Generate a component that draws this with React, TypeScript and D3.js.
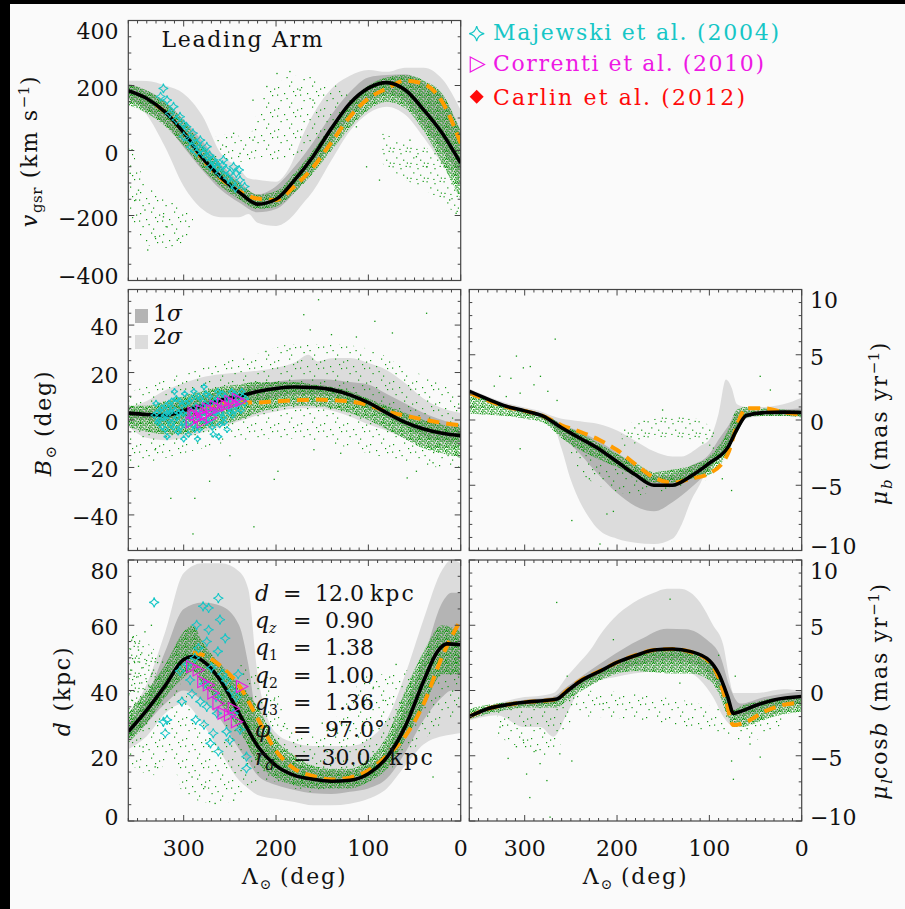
import React from 'react';
import * as d3 from 'd3';

type P = [number, number];
type B = [number, number, number];

// ================= DATA =================
// ---- v_gsr panel ----
const vMean: P[] = [[360,184],[340,160],[320,118],[300,55],[280,-22],[260,-82],[240,-128],[220,-165],[200,-150],[180,-91],[160,-19],[140,68],[120,145],[100,192],[80,209],[60,186],[40,125],[20,53],[0,-39]];
const vOrange: P[] = [[330,140],[320,118],[300,55],[280,-25],[260,-85],[240,-125],[220,-148],[200,-152],[180,-110],[160,-52],[140,25],[120,104],[100,160],[80,191],[60,215],[40,205],[20,150],[0,22]];
const v2s: B[] = [[360,165,215],[340,110,214],[320,10,200],[300,-110,175],[280,-180,108],[260,-205,-8],[240,-205,-55],[230,-195,-85],[220,-222,-90],[200,-232,-96],[185,-210,-50],[170,-160,53],[160,-125,110],[140,-30,190],[120,60,230],[100,115,248],[80,135,242],[60,110,255],[40,40,255],[20,-40,220],[0,-101,125]];
const v1s: B[] = [[360,160,205],[340,125,185],[320,80,150],[300,10,95],[280,-60,30],[260,-120,-40],[240,-160,-95],[220,-190,-135],[200,-180,-110],[180,-130,-50],[160,-60,25],[140,25,110],[120,100,180],[100,150,225],[80,175,232],[60,150,235],[40,75,210],[20,0,170],[0,-80,60]];
const vCore: B[] = [[360,140,205],[340,115,185],[320,75,150],[300,15,90],[280,-55,15],[260,-110,-50],[240,-150,-100],[220,-180,-135],[200,-172,-125],[180,-130,-70],[160,-70,0],[140,0,75],[120,70,150],[100,125,200],[80,150,225],[60,130,232],[40,60,215],[20,-40,175],[0,-150,60]];
const vSparse: B[] = [[360,-180,30],[340,-290,-100],[320,-300,-150],[300,-280,-180],[290,-250,-210]];
const vSparse2: B[] = [[268,-30,40],[250,-40,50],[230,-30,40],[215,-20,170],[200,-40,200],[185,-20,230],[170,0,230],[150,40,220],[130,60,190],[115,80,150]];
const vLow: B[] = [[85,-40,60],[75,-60,40],[60,-90,20],[40,-120,10],[20,-160,-20],[0,-210,-90]];
const vDots: P[] = [[199,237],[185,243],[210,197],[174,186],[225,155],[160,155],[246,53],[254,12],[239,-9],[225,32],[113,73],[102,-50],[88,-91],[48,-19],[37,-50],[55,32],[12,-152],[5,-193],[349,-122],[342,-183],[331,-265],[339,-306],[318,-235],[307,-276],[322,-204],[356,2],[358,-70],[352,-152]];
const vStars: P[] = [[322,191],[325,166],[318,155],[311,135],[315,114],[308,94],[304,104],[300,43],[297,73],[293,32],[290,53],[286,22],[282,32],[282,2],[279,-9],[275,12],[275,-19],[271,-50],[268,-29],[264,-50],[261,-70],[257,-29],[254,-60],[250,-70],[246,-50],[243,-70],[239,-91],[234,-111],[300,80],[292,10],[286,-5],[272,-15],[266,-40],[258,-45],[252,-85],[248,-100],[240,-60],[244,-115]];

// ---- B panel ----
const bMean: P[] = [[360,2.9],[340,2.3],[320,1.9],[300,4],[280,6],[260,8.3],[240,10],[220,12],[200,13.3],[180,13.9],[160,13.7],[140,12.8],[120,10.6],[100,7.3],[80,3],[60,-1],[40,-3.8],[20,-5.6],[0,-6.6]];
const bOrange: P[] = [[300,3.8],[280,5.5],[260,6.8],[240,7.3],[220,7.4],[200,7.9],[180,8.3],[160,8.6],[140,8.4],[120,7.8],[100,6.3],[80,3.6],[60,1.8],[40,0.2],[20,-1.2],[0,-2.2]];
const b2s: B[] = [[360,-2.7,5],[340,-7.5,8],[320,-8.5,12.5],[300,-7.5,15.5],[280,-5.3,18],[260,-3,19.3],[240,-0.5,20],[220,2,20.8],[200,3.6,22],[180,4.8,24.2],[165,5,27.5],[155,5,24.7],[140,4,26],[120,1.5,26.1],[100,-1.8,24],[80,-4.5,21],[60,-7.8,15.5],[40,-11,9],[20,-11.8,5],[0,-11,3]];
const b1s: B[] = [[360,1,4],[340,0,4],[320,-1,6],[300,0.5,8],[280,2,10],[260,4,12],[240,6,13.5],[220,8,15],[200,9.5,16.2],[180,10.5,17],[160,10.5,17.2],[140,10,17],[120,7,16],[100,5,15],[80,1,11],[60,-3,7],[40,-7,3],[20,-9,0],[0,-9.7,-2.7]];
const bCore: B[] = [[360,-3,6],[340,-5,6],[320,-6,8],[300,-6,10],[280,-4,12],[260,-2,14],[240,0,15],[220,3,16],[200,5,16],[180,6,16],[160,6,15],[140,5,14],[120,3,12],[100,0,9],[80,-4,6],[60,-8,3],[40,-12,0],[20,-14,-2],[0,-16,-3]];
const bSparse: B[] = [[360,-20,12],[340,-18,14],[300,-14,20],[260,-10,25],[220,-8,28],[180,-8,32],[140,-10,32],[100,-14,30],[60,-18,22],[20,-20,15],[0,-20,10]];
const bDots: P[] = [[154,50.7],[170,44.4],[93,41.6],[163,38],[211,28.9],[74,36.7],[37,45],[113,35],[198,-21.6],[202,-25],[272,-25.8],[288,-33],[314,-33],[224,-45],[290,-48],[48,-21.6],[58,-24.4],[30,-18],[159,-12.5],[331,-12.5],[349,-19.5],[250,-15],[130,-14],[185,30],[140,36]];
const bStars: P[] = [[332,2],[328,-1],[326,4],[322,1],[320,-4],[318,3],[316,7],[314,-2],[312,5],[310,0],[308,9],[306,-5],[305,3],[302,6],[300,-1],[299,11],[297,2],[295,-6],[294,8],[292,4],[290,-2],[289,12],[287,6],[285,1],[283,-4],[282,9],[280,3],[278,14],[277,7],[275,-1],[273,5],[272,10],[270,0],[268,-6],[266,8],[265,3],[263,12],[261,-2],[259,6],[257,1],[255,10],[253,-4],[251,5],[249,8],[247,2],[245,11],[243,6],[241,9],[238,4],[236,10],[234,7],[318,-7],[300,-8],[285,-8],[262,-7],[330,7],[310,12],
  [329,3],[327,0],[324,5],[323,-3],[321,2],[319,6],[317,0],[315,3],[313,8],[311,-3],[309,4],[307,1],[304,8],[303,-3],[301,3],[298,7],[296,-2],[293,1],[291,9],[288,-4],[286,4],[284,10],[281,0],[279,6],[276,11],[274,2],[271,7],[269,-3],[267,3],[264,9],[260,3],[258,11],[256,-1],[252,8],[250,3],[248,12],[244,4],[240,7],[237,12],[233,9]];
const bTris: P[] = [[292,-1],[288,2],[284,1],[281,4],[277,2],[274,5],[270,4],[266,6],[262,5],[258,7],[254,6],[250,8],[246,7],[242,9],[238,8],[290,3],[280,-1],[270,1]];

// ---- d panel ----
const dMean: P[] = [[360,27.4],[340,34],[320,41.5],[300,49.5],[290,50.4],[280,49.2],[260,43],[240,33],[220,23],[200,17],[180,14],[160,12.8],[140,12.2],[120,12.5],[100,14.5],[80,19.5],[60,29],[40,43],[25,52],[15,54.3],[0,54]];
const dOrange: P[] = [[290,51.5],[280,51],[260,47.5],[240,41.5],[220,31.5],[200,21.5],[180,16],[160,13.8],[140,12.7],[120,13.3],[100,15.5],[80,20],[60,26],[40,36],[20,50.5],[0,61.7]];
const d2s: B[] = [[360,22,33],[340,26,42],[320,33,58],[300,36,76],[280,30,79],[260,21,79],[240,12.5,76.5],[230,10,71],[220,8,45],[200,6.8,27],[180,5.8,24],[160,4.8,23],[140,4.8,23],[120,5.3,23],[100,6.8,25],[80,10,31],[60,17,45],[40,23.5,62],[20,26,77],[10,26.5,80],[0,27,79]];
const d1s: B[] = [[360,25,30],[340,30,38],[320,36,52],[300,40,65],[280,37,67],[260,31,66],[240,22,60],[230,18,48],[220,14,30],[200,11,22],[180,9.5,18],[160,8.5,16],[140,8.3,15.5],[120,9,15.5],[100,10,17],[80,13,22],[60,21,35],[40,31,50],[20,38,67],[10,40,70],[0,40,70]];
const dCore: B[] = [[360,24,33],[340,30,40],[320,38,48],[300,44,58],[290,46,60],[280,42,55],[260,36,48],[240,28,42],[220,18,35],[200,13,25],[180,11,20],[160,10,17],[140,10,16],[120,10,16],[100,12,19],[80,16,26],[60,25,40],[40,35,52],[20,45,60],[0,45,58]];
const dSparse: B[] = [[360,18,58],[345,15,56],[330,14,52],[315,20,48],[300,8,40],[280,6,30],[260,5,25],[240,8,48],[220,12,48],[200,12,40],[180,10,28],[160,9,26],[140,10,30],[120,11,38],[100,12,45],[80,15,45],[60,20,46],[40,25,50],[20,30,55],[0,32,56]];
const dLow: B[] = [[360,30,57],[350,32,56],[340,36,52],[330,38,50]];
const dDots: P[] = [[354.6,56.5],[349,52.4],[342,58],[326,37],[344,22.7],[331,16.6],[291,13.5],[277,10.5],[266,5.4],[246,6.4],[202,37.1],[192,29],[138,28],[120,34],[94.6,41],[84,37],[30,13.5],[48,20],[210,44],[150,30],[70,48],[335,60]];
const dStars: P[] = [[332,67],[322,30.4],[320,26.9],[318,31],[302,36.6],[293,43.2],[291,39],[288,50],[286,60.1],[282,36.6],[279,65.8],[278,42],[278,29.5],[275,35],[275,55],[273,65.3],[273,58.6],[271,23.8],[268,26.9],[264,33],[263,52],[262.5,68.3],[262.5,21.3],[260.7,61.7],[255,56],[254,43],[253.6,27.4],[250,24.8],[246,33],[243,38],[239,28],[232,19.7],[232,16.1],[304,46],[296,48],[284,53],[270,47],[258,45],[248,40],[265,38],[287,31],[241,45]];
const dTris: P[] = [[291,47.3],[284,46.3],[279,42.7],[273,41.7],[268,39.2],[262.5,36],[257,33],[250,32.5],[246,34.5],[242.6,30.4],[237,41.2]];

// ---- mu_b panel ----
const mbMean: P[] = [[360,2.2],[340,1.6],[320,1.05],[300,0.7],[280,0.3],[260,-0.6],[240,-1.4],[220,-2.2],[200,-3.2],[180,-4.2],[160,-5.0],[140,-5.0],[120,-4.3],[100,-3.3],[80,-2.1],[70,-0.7],[60,0.35],[40,0.57],[20,0.6],[0,0.57]];
const mbOrange: P[] = [[360,2.1],[340,1.5],[320,1.0],[300,0.7],[280,0.3],[260,-0.4],[240,-0.9],[220,-1.5],[200,-2.3],[180,-3.4],[160,-4.4],[140,-4.8],[120,-4.5],[100,-4.1],[80,-2.6],[70,-0.4],[60,0.9],[40,0.9],[20,0.6],[0,0.4]];
const mb2s: B[] = [[360,1.9,2.4],[340,1.3,1.8],[320,0.8,1.3],[300,0.4,0.95],[280,0,0.6],[270,-0.3,0.3],[260,-2.2,0.1],[250,-4.6,0],[240,-6.3,-0.1],[230,-7.5,-0.2],[220,-8.4,-0.3],[200,-9.1,-0.8],[180,-9.4,-1.6],[160,-9.5,-2.4],[140,-9.1,-2.8],[130,-8.0,-2.8],[120,-6.2,-2.5],[110,-4.9,-2.0],[100,-3.4,-1.5],[90,-2.6,0.5],[82,-2.2,3.1],[76,-1.6,2.5],[70,-0.8,1.2],[60,0.1,1.0],[40,0.3,1.0],[20,0.3,1.2],[0,0.2,1.7]];
const mb1s: B[] = [[360,2.0,2.3],[340,1.4,1.7],[320,0.9,1.15],[300,0.55,0.8],[280,0.1,0.45],[260,-1.2,-0.3],[240,-2.6,-0.9],[220,-4.2,-1.6],[200,-5.6,-2.5],[180,-6.6,-3.5],[160,-7.0,-4.3],[140,-6.3,-4.2],[120,-5.2,-3.5],[100,-3.8,-2.6],[90,-2.8,-1.5],[80,-2.2,-0.5],[70,-1.0,0.6],[60,0.2,0.7],[40,0.4,0.7],[20,0.4,0.8],[0,0.3,0.9]];
const mbCore: B[] = [[360,0.5,2.2],[340,0.4,1.6],[320,0.3,1.1],[300,0.1,0.8],[280,-0.2,0.4],[260,-1.4,-0.3],[240,-2.3,-1],[220,-3.0,-1.8],[200,-3.6,-2.6],[180,-4.3,-3.3],[160,-4.8,-4.0],[140,-4.8,-3.8],[120,-4.5,-3.5],[100,-4.2,-2.8],[90,-3.6,-2.0],[80,-2.5,-0.8],[70,-1.0,0.8],[60,0.2,1.0],[40,0.3,0.9],[20,0.3,0.8],[0,0.2,0.7]];
const mbLow: B[] = [[195,-2.2,-0.6],[180,-1.8,-0.1],[160,-1.4,0.1],[140,-1.3,0.3],[120,-1.5,0.2],[105,-2,-0.2],[95,-2.4,-0.8]];
const mbSparseB: B[] = [[250,-3,-1],[240,-4,-2],[220,-5,-3],[200,-5.5,-3.5],[180,-5.8,-4.5],[160,-5.5,-4.8],[140,-5.5,-4.5],[120,-5,-4],[100,-4.5,-3]];
const mbDots: P[] = [[267,6.2],[309,4.9],[301.5,4.0],[294,4.1],[327,3.35],[305,2.06],[333,2.6],[283,3.35],[305,-2.2],[249,-7.7],[218.5,-9.5],[211,-7.2],[204,-7.0],[76,-5.4],[45,3.35],[34,2.3],[150.7,0.77],[315,3.2],[290,2.7],[275,2.2],[320,1.8],[265,1.5],[230,-4.5],[86,-4.5]];

// ---- mu_l cos b panel ----
const mlMean: P[] = [[360,-2.0],[340,-1.4],[320,-1.1],[300,-0.9],[280,-0.78],[265,-0.65],[255,-0.1],[240,0.7],[220,1.42],[200,2.15],[180,2.68],[160,3.1],[140,3.18],[120,2.98],[100,2.3],[90,1.3],[80,-0.5],[74,-1.75],[66,-1.6],[50,-1.15],[30,-0.72],[0,-0.46]];
const mlOrange: P[] = [[360,-2.0],[340,-1.4],[320,-1.1],[300,-0.9],[280,-0.8],[265,-0.65],[255,-0.05],[240,0.75],[220,1.45],[200,2.15],[180,2.7],[160,3.1],[140,3.18],[120,2.95],[100,2.2],[90,1.0],[82,-0.8],[74,-2.65],[60,-2.4],[40,-1.6],[20,-1.1],[0,-0.93]];
const ml2s: B[] = [[360,-2.3,-1.75],[330,-1.9,-1.0],[300,-2.8,-0.5],[283,-2.8,-0.4],[269,-3.55,-0.2],[254,-1.75,1.1],[240,0.05,2.2],[229,0.4,3.1],[218,0.8,4.3],[204,1.0,5.5],[182,1.3,6.75],[160,1.5,7.5],[146,1.6,7.8],[132,1.6,7.8],[110,0.8,6.75],[96,-0.5,5.0],[85,-2.0,3.5],[78,-2.6,0.8],[74,-2.8,-0.2],[49,-2.3,-0.2],[20,-1.6,0.1],[0,-1.24,0]];
const ml1s: B[] = [[360,-2.1,-1.9],[330,-1.4,-1.1],[300,-1.2,-0.7],[270,-1.0,-0.5],[254,-0.3,0.3],[230,0.7,1.5],[211,1.2,2.4],[175,2.0,3.9],[146,2.3,4.74],[125,2.2,4.7],[103,1.4,3.9],[88,0.05,2.6],[78,-1.75,0.3],[67,-2.0,-1.0],[40,-1.4,-0.5],[0,-1.0,-0.08]];
const mlCore: B[] = [[360,-2.2,-1.4],[340,-1.8,-1.1],[320,-1.5,-0.9],[300,-1.3,-0.8],[280,-1.3,-0.7],[265,-1.3,-0.7],[255,-0.8,0],[240,-0.1,0.7],[220,0.7,1.5],[200,1.3,2.2],[180,1.5,2.7],[160,1.4,3.1],[140,1.3,3.1],[120,1.3,2.9],[100,0.8,2.3],[90,-0.2,1.5],[80,-2.0,-0.2],[74,-2.8,-1.5],[66,-2.8,-1.2],[50,-2.5,-0.9],[30,-2.0,-0.6],[0,-1.6,-0.6]];
const mlSparse: B[] = [[330,-3.5,-1.5],[300,-4.5,-1.2],[280,-5,-1.2],[260,-4,-1],[245,-2,0],[80,-3.5,-1.5],[60,-4,-2],[40,-3.5,-1.8],[20,-2.5,-1.4]];
const mlDots: P[] = [[265.4,6.75],[142.6,7.0],[326.8,-2.8],[309,-4.3],[298,-6.4],[283.4,-5.6],[294.5,-8.2],[272.6,-9.7],[276,-6.9],[249,-5.4],[262,-4.85],[301.5,-3.8],[74,-6.8],[76,-5.4],[45,-5.1],[56,-4.1],[132,0.57],[215,-1.0],[254,1.1],[72,1.1],[204,3.9],[318,-5.2],[288,-4.6],[90,2.7]];

// ---- texts ----
const xTickVals = [300, 200, 100, 0];
const legendLabels = ['Majewski et al. (2004)', 'Correnti et al. (2010)', 'Carlin et al. (2012)'];
const legendWidths = [286, 271, 252];
const paramNames = ['d', 'q', 'q', 'q', 'q', 'φ', 'r'];
const paramSubs = ['', 'z', '1', '2', '3', '', 'd'];
const paramValues = ['12.0', '0.90', '1.38', '1.00', '1.36', '97.0°', '30.0'];
const paramUnits = ['kpc', '', '', '', '', '', 'kpc'];

// ================= STYLE =================
const FONT = '"DejaVu Serif", "Liberation Serif", serif';
const FS = 22;
const BG = '#fafafa';
const C_LIGHT = '#dcdcdc';
const C_DARK = '#b4b4b4';
const GREEN = '#129812';
const CYAN = '#16c6c6';
const MAGENTA = '#ee18e4';
const RED = '#ff0a0a';
const ORANGE = '#ff9c00';
const FRAME = '#444';
const LS = 1.8;

const coreDots: [number, number][] = [[0.3,0.5],[2.6,0.2],[5.1,1.0],[7.4,0.4],[1.4,2.3],[3.9,2.8],[6.3,2.5],[8.2,3.3],[0.2,4.4],[2.7,4.9],[5.0,4.2],[7.1,5.3],[1.3,6.5],[3.8,6.9],[6.0,6.6],[8.3,7.0],[4.6,5.9],[0.8,7.5]];
const lowDots: [number, number][] = [[1.5,1.2],[9.4,3.1],[14.6,0.8],[5.2,7.3],[12.1,9.6],[2.4,12.8],[8.3,13.9],[15.8,12.5]];
const sparseDots: [number, number][] = [[2,3],[13,1.5],[8,9],[19,11],[4.5,16],[15,18.5],[21,4.5],[10.5,14],[1,10.5],[17,7]];

type Cfg = {
  id: string; x: [number, number]; y: [number, number]; dom: [number, number];
  major: number[]; minor: number; side: 'left' | 'right'; xlab: boolean;
};

const cfgV: Cfg = { id: 'v', x: [128.3, 460.7], y: [20.5, 280.5], dom: [-400, 400], major: [-400, -200, 0, 200, 400], minor: 50, side: 'left', xlab: false };
const cfgB: Cfg = { id: 'b', x: [128.3, 460.7], y: [289.5, 550.5], dom: [-55, 55], major: [-40, -20, 0, 20, 40], minor: 5, side: 'left', xlab: false };
const cfgD: Cfg = { id: 'd', x: [128.3, 460.7], y: [560, 821], dom: [0, 80], major: [0, 20, 40, 60, 80], minor: 5, side: 'left', xlab: true };
const cfgMB: Cfg = { id: 'mb', x: [469.3, 801.7], y: [289.5, 550.5], dom: [-10, 10], major: [-10, -5, 0, 5, 10], minor: 1, side: 'right', xlab: false };
const cfgML: Cfg = { id: 'ml', x: [469.3, 801.7], y: [560, 821], dom: [-10, 10], major: [-10, -5, 0, 5, 10], minor: 1, side: 'right', xlab: true };

const fmt = (v: number) => (v < 0 ? '\u2212' + Math.abs(v) : String(v));

function star4(cx: number, cy: number, r: number) {
  const k = 0.17 * r;
  return `M${cx},${cy - r}Q${cx + k},${cy - k} ${cx + r},${cy}Q${cx + k},${cy + k} ${cx},${cy + r}Q${cx - k},${cy + k} ${cx - r},${cy}Q${cx - k},${cy - k} ${cx},${cy - r}Z`;
}
function triR(cx: number, cy: number, s: number) {
  return `M${cx - s * 0.45},${cy - s / 2}L${cx + s * 0.5},${cy}L${cx - s * 0.45},${cy + s / 2}Z`;
}

type Layers = {
  s2: B[]; s1: B[]; core: B[]; lows?: B[][]; sparse?: B[][]; dots: P[]; orange: P[]; mean: P[];
  stars?: P[]; starR?: number; tris?: P[]; triS?: number;
};

function Panel({ c, L }: { c: Cfg; L: Layers }) {
  const xs = d3.scaleLinear().domain([360, 0]).range(c.x);
  const ys = d3.scaleLinear().domain(c.dom).range([c.y[1], c.y[0]]);
  const area = d3.area<B>().x(d => xs(d[0])).y0(d => ys(d[1])).y1(d => ys(d[2])).curve(d3.curveMonotoneX);
  const line = d3.line<P>().x(d => xs(d[0])).y(d => ys(d[1])).curve(d3.curveMonotoneX);
  const [x0, x1] = c.x; const [y0, y1] = c.y;
  const xMinor = d3.range(0, 361, 10);
  const yMinor = d3.range(c.dom[0], c.dom[1] + 1e-9, c.minor);
  const top = c.dom[1], bot = c.dom[0];
  const labShift = (v: number) => (v === top ? 10.5 : v === bot ? -4.5 : 2);
  return (
    <g>
      <clipPath id={'clip' + c.id}><rect x={x0} y={y0} width={x1 - x0} height={y1 - y0} /></clipPath>
      <g clipPath={`url(#clip${c.id})`}>
        <path d={area(L.s2) || ''} fill={C_LIGHT} />
        <path d={area(L.s1) || ''} fill={C_DARK} />
        {(L.sparse || []).map((b, i) => <path key={'s' + i} d={area(b) || ''} fill="url(#gSparse)" />)}
        {(L.lows || []).map((b, i) => <path key={'m' + i} d={area(b) || ''} fill="url(#gLow)" />)}
        <path d={area(L.core) || ''} fill="url(#gCore)" />
        {L.dots.map((p, i) => <rect key={'d' + i} x={xs(p[0]) - 0.6} y={ys(p[1]) - 0.6} width={1.3} height={1.3} fill={GREEN} />)}
        <path d={line(L.orange) || ''} fill="none" stroke={ORANGE} strokeWidth={4} strokeDasharray="12,7" />
        <path d={line(L.mean) || ''} fill="none" stroke="#000" strokeWidth={3.6} />
        {(L.stars || []).map((p, i) => <path key={'st' + i} d={star4(xs(p[0]), ys(p[1]), L.starR || 5)} fill="none" stroke={CYAN} strokeWidth={1.1} />)}
        {(L.tris || []).map((p, i) => <path key={'tr' + i} d={triR(xs(p[0]), ys(p[1]), L.triS || 12)} fill="none" stroke={MAGENTA} strokeWidth={1.1} />)}
      </g>
      <rect x={x0} y={y0} width={x1 - x0} height={y1 - y0} fill="none" stroke={FRAME} strokeWidth={1.2} />
      {xMinor.map(v => {
        const maj = v % 100 === 0; const l = maj ? 6 : 3; const X = xs(v);
        return <g key={'xt' + v}>
          <line x1={X} x2={X} y1={y1} y2={y1 - l} stroke={FRAME} strokeWidth={1} />
          <line x1={X} x2={X} y1={y0} y2={y0 + l} stroke={FRAME} strokeWidth={1} />
        </g>;
      })}
      {yMinor.map(v => {
        const maj = c.major.some(m => Math.abs(m - v) < 1e-9); const l = maj ? 6 : 3; const Y = ys(v);
        return <g key={'yt' + v}>
          <line x1={x0} x2={x0 + l} y1={Y} y2={Y} stroke={FRAME} strokeWidth={1} />
          <line x1={x1} x2={x1 - l} y1={Y} y2={Y} stroke={FRAME} strokeWidth={1} />
        </g>;
      })}
      {c.major.map(v => (
        <text key={'yl' + v} x={c.side === 'left' ? 118.5 : 810} y={ys(v) + labShift(v) + 8}
          textAnchor={c.side === 'left' ? 'end' : 'start'} fontSize={FS} fontFamily={FONT} fill="#111">{fmt(v)}</text>
      ))}
      {c.xlab && xTickVals.map(v => (
        <text key={'xl' + v} x={xs(v)} y={855.5} textAnchor="middle" fontSize={FS} fontFamily={FONT} fill="#111">{fmt(v)}</text>
      ))}
      {c.xlab && (
        <text x={(x0 + x1) / 2} y={884} textAnchor="middle" fontSize={FS} fontFamily={FONT} fill="#111" letterSpacing={LS}>
          Λ<tspan fontSize={14} dy={5} letterSpacing={0}>⊙</tspan><tspan dy={-5}> (deg)</tspan>
        </text>
      )}
    </g>
  );
}

export default function App() {
  const legendY = [31.7, 62.5, 96.7];
  const legendColors = [CYAN, MAGENTA, RED];
  const paramBase = [601, 627.5, 655, 682.5, 710, 737, 765];
  return (
    <svg width={905} height={909} style={{ position: 'absolute', left: 0, top: 0 }} xmlns="http://www.w3.org/2000/svg">
      <defs>
        <pattern id="gCore" width={9} height={8} patternUnits="userSpaceOnUse">
          {coreDots.map((p, i) => <rect key={i} x={p[0]} y={p[1]} width={1.4} height={1.4} fill={GREEN} />)}
        </pattern>
        <pattern id="gLow" width={17} height={15} patternUnits="userSpaceOnUse">
          {lowDots.map((p, i) => <rect key={i} x={p[0]} y={p[1]} width={1.2} height={1.2} fill={GREEN} />)}
        </pattern>
        <pattern id="gSparse" width={23} height={21} patternUnits="userSpaceOnUse">
          {sparseDots.map((p, i) => <rect key={i} x={p[0]} y={p[1]} width={1.2} height={1.2} fill={GREEN} />)}
        </pattern>
      </defs>
      <rect x={0} y={0} width={905} height={909} fill="#000" />
      <rect x={10} y={4} width={895} height={905} fill={BG} />

      <Panel c={cfgV} L={{ s2: v2s, s1: v1s, core: vCore, sparse: [vSparse, vSparse2], lows: [vLow], dots: vDots, orange: vOrange, mean: vMean, stars: vStars, starR: 4.8 }} />
      <Panel c={cfgB} L={{ s2: b2s, s1: b1s, core: bCore, sparse: [bSparse], dots: bDots, orange: bOrange, mean: bMean, stars: bStars, starR: 3.5, tris: bTris, triS: 11 }} />
      <Panel c={cfgD} L={{ s2: d2s, s1: d1s, core: dCore, sparse: [dSparse], lows: [dLow], dots: dDots, orange: dOrange, mean: dMean, stars: dStars, starR: 5, tris: dTris, triS: 12 }} />
      <Panel c={cfgMB} L={{ s2: mb2s, s1: mb1s, core: mbCore, sparse: [mbSparseB], lows: [mbLow], dots: mbDots, orange: mbOrange, mean: mbMean }} />
      <Panel c={cfgML} L={{ s2: ml2s, s1: ml1s, core: mlCore, sparse: [mlSparse], dots: mlDots, orange: mlOrange, mean: mlMean }} />

      {/* Leading Arm */}
      <text x={161.5} y={46.5} fontSize={FS} fontFamily={FONT} fill="#111" textLength={161} lengthAdjust="spacing">Leading Arm</text>

      {/* sigma legend */}
      <rect x={135} y={309} width={13} height={14} fill={C_DARK} />
      <rect x={135} y={335} width={13} height={14} fill={C_LIGHT} />
      <text x={153} y={321} fontSize={FS} fontFamily={FONT} fill="#111">1<tspan fontStyle="italic">σ</tspan></text>
      <text x={153} y={344} fontSize={FS} fontFamily={FONT} fill="#111">2<tspan fontStyle="italic">σ</tspan></text>

      {/* data legend */}
      <path d={star4(476.7, legendY[0] + 2, 7.5)} fill="none" stroke={CYAN} strokeWidth={1.2} />
      <path d={triR(477, legendY[1] + 2, 15)} fill="none" stroke={MAGENTA} strokeWidth={1.2} />
      <path d={`M476.7,${legendY[2] - 7}L483.7,${legendY[2]}L476.7,${legendY[2] + 7}L469.7,${legendY[2]}Z`} fill={RED} />
      {legendLabels.map((t, i) => (
        <text key={t} x={493} y={legendY[i] + 8} fontSize={FS} fontFamily={FONT} fill={legendColors[i]} textLength={legendWidths[i]} lengthAdjust="spacing">{t}</text>
      ))}

      {/* parameters */}
      {paramNames.map((n, i) => (
        <g key={'p' + i} fontSize={FS} fontFamily={FONT} fill="#111">
          <text x={255} y={paramBase[i]}>
            <tspan fontStyle="italic">{n}</tspan>
            {paramSubs[i] && <tspan fontSize={14} dy={5} fontStyle={/[a-z]/.test(paramSubs[i]) ? 'italic' : 'normal'}>{paramSubs[i]}</tspan>}
          </text>
          <text x={i === 0 ? 283 : 293} y={paramBase[i]}>=</text>
          <text x={i === 0 ? 315 : i === 6 ? 321.5 : 325} y={paramBase[i]}>{paramValues[i]}</text>
          {paramUnits[i] && <text x={i === 0 ? 370 : 389} y={paramBase[i]} letterSpacing={2}>{paramUnits[i]}</text>}
        </g>
      ))}

      {/* y axis titles */}
      <text transform="translate(37,151) rotate(-90)" textAnchor="middle" fontSize={FS} fontFamily={FONT} fill="#111" letterSpacing={LS}>
        <tspan fontStyle="italic">v</tspan><tspan fontSize={15} dy={5} letterSpacing={0.5}>gsr</tspan><tspan dy={-5}> (km s</tspan><tspan fontSize={15} dy={-8} letterSpacing={0.5}>−1</tspan><tspan dy={8}>)</tspan>
      </text>
      <text transform="translate(51,423) rotate(-90)" textAnchor="middle" fontSize={FS} fontFamily={FONT} fill="#111" letterSpacing={LS}>
        <tspan fontStyle="italic">B</tspan><tspan fontSize={15} dy={5} letterSpacing={0}>⊙</tspan><tspan dy={-5}> (deg)</tspan>
      </text>
      <text transform="translate(70,691) rotate(-90)" textAnchor="middle" fontSize={FS} fontFamily={FONT} fill="#111" letterSpacing={LS}>
        <tspan fontStyle="italic">d</tspan> (kpc)
      </text>
      <text transform="translate(887,423) rotate(-90)" textAnchor="middle" fontSize={FS} fontFamily={FONT} fill="#111" letterSpacing={LS}>
        <tspan fontStyle="italic">μ</tspan><tspan fontSize={15} dy={5} fontStyle="italic" letterSpacing={0}>b</tspan><tspan dy={-5}> (mas yr</tspan><tspan fontSize={15} dy={-8} letterSpacing={0.5}>−1</tspan><tspan dy={8}>)</tspan>
      </text>
      <text transform="translate(887,691) rotate(-90)" textAnchor="middle" fontSize={FS} fontFamily={FONT} fill="#111" letterSpacing={LS}>
        <tspan fontStyle="italic">μ</tspan><tspan fontSize={15} dy={5} fontStyle="italic" letterSpacing={0}>l</tspan><tspan dy={-5}>cos</tspan><tspan fontStyle="italic">b</tspan> (mas yr<tspan fontSize={15} dy={-8} letterSpacing={0.5}>−1</tspan><tspan dy={8}>)</tspan>
      </text>
    </svg>
  );
}
